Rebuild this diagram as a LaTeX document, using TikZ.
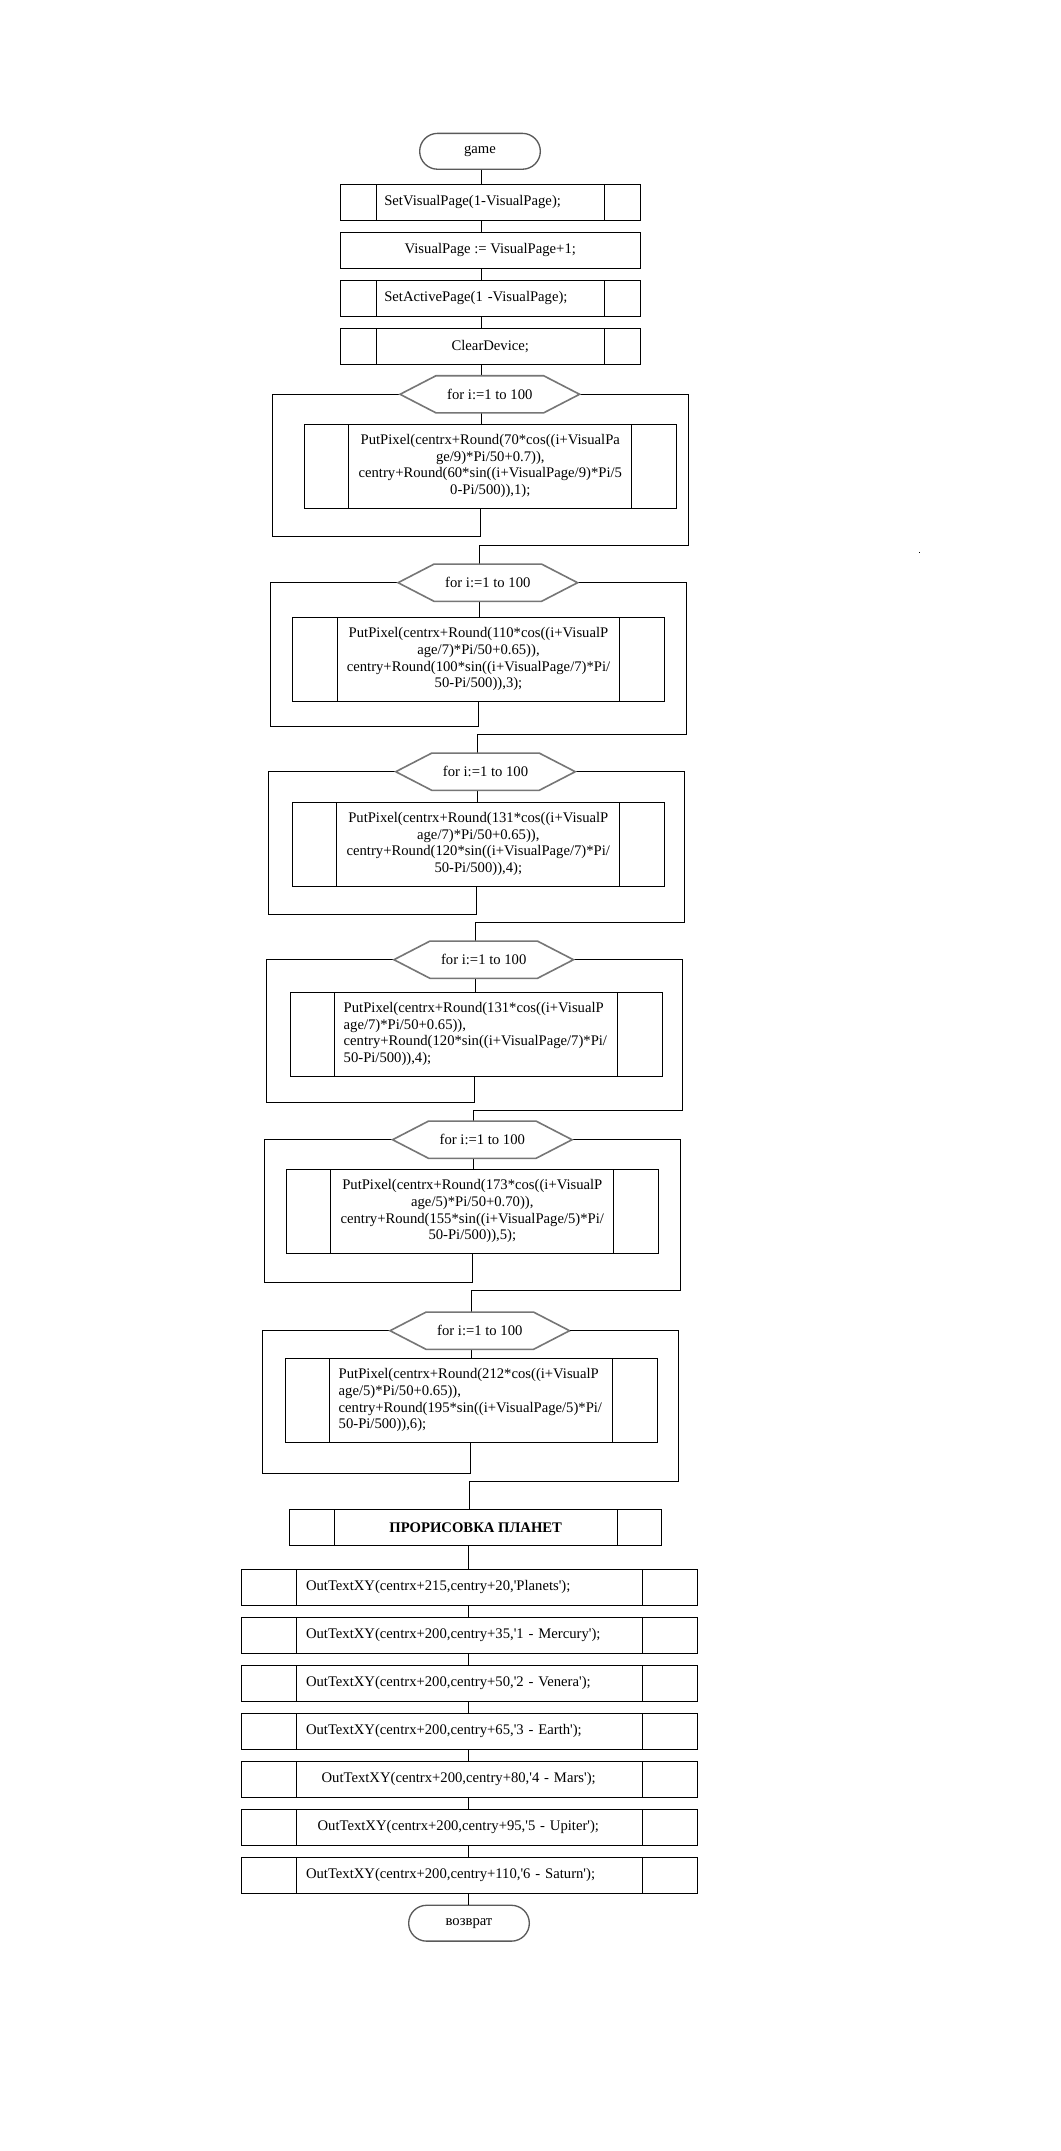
\documentclass[tikz,border=0pt]{standalone}
\usepackage{fontspec}
\setmainfont{Liberation Serif}
\usetikzlibrary{shapes.misc}
\definecolor{hexgray}{RGB}{118,118,118}
\definecolor{termgray}{RGB}{90,90,90}
\newcommand{\myq}{\textquotesingle}
\tikzset{
  line/.style={draw=black, line width=0.75pt},
  box/.style={draw=black, line width=0.75pt, rectangle, inner sep=0pt, minimum height=26.9pt},
  sides/.style={path picture={
    \draw[black, line width=0.75pt] ([xshift=#1]path picture bounding box.north west) -- ([xshift=#1]path picture bounding box.south west);
    \draw[black, line width=0.75pt] ([xshift=-#1]path picture bounding box.north east) -- ([xshift=-#1]path picture bounding box.south east);}},
  topbox/.style={box, minimum width=225pt},
  body/.style={box, minimum width=279pt, minimum height=63pt, sides=33.4pt},
  outbox/.style={box, minimum width=342.3pt, sides=41.7pt, text width=245.25pt, align=left},
  term/.style={rounded rectangle, draw=termgray, line width=1pt, inner sep=0pt, minimum width=90.5pt, minimum height=26.9pt},
  hexn/.style={inner sep=0pt, minimum width=134.25pt, minimum height=27.5pt},
  hexline/.style={draw=hexgray, line width=1.2pt, line join=miter},
}
\begin{document}
\begin{tikzpicture}[x=0.75pt, y=-0.75pt, font={\fontsize{11}{12.5}\selectfont}]
\useasboundingbox (0,0) rectangle (1060,2151);
\fill[white] (0,0) rectangle (1060,2151);

% spine x coordinates
\coordinate (xa) at (481.5,0);
\coordinate (xb) at (480.3,0);
\coordinate (xc) at (479.3,0);
\coordinate (xd) at (478.7,0);
\coordinate (xe) at (477.4,0);
\coordinate (xf) at (476.7,0);
\coordinate (xg) at (475.7,0);
\coordinate (xh) at (474.3,0);
\coordinate (xi) at (473.3,0);
\coordinate (xj) at (472.3,0);
\coordinate (xk) at (471.3,0);
\coordinate (xl) at (470.3,0);
\coordinate (xm) at (469.3,0);
\coordinate (xn) at (468.3,0);

% top part
\node[term] (game) at (480,151.3) {game};
\node[topbox, sides=27pt, text width=159pt, align=left] (b1) at (490.3,202.2) {SetVisualPage(1-VisualPage);};
\node[topbox] (b2) at (490.3,250.2) {VisualPage := VisualPage+1;};
\node[topbox, sides=27pt, text width=159pt, align=left] (b3) at (490.3,298.2) {SetActivePage(1 -VisualPage);};
\node[topbox, sides=27pt] (b4) at (490.3,346.3) {ClearDevice;};

\draw[line] (game.south -| xa) -- (b1.north -| xa);
\draw[line] (b1.south -| xa) -- (b2.north -| xa);
\draw[line] (b2.south -| xa) -- (b3.north -| xa);
\draw[line] (b3.south -| xa) -- (b4.north -| xa);

% loop 1
\node[hexn] (h1) at (489.8,394.3) {for i:=1 to 100};
\node[body, align=center] (p1) at (490.3,466) {PutPixel(centrx+Round(70*cos((i+VisualPa\\ge/9)*Pi/50+0.7)),\\centry+Round(60*sin((i+VisualPage/9)*Pi/5\\0-Pi/500)),1);};
\coordinate (l1) at (272.3,536.7);
\coordinate (r1) at (688.3,545);
\draw[line] (b4.south -| xa) -- (h1.north -| xa);
\draw[line] (h1.south -| xa) -- (p1.north -| xa);
\draw[line] (h1.west) -| (l1) -| (p1.south -| xb);

% loop 2
\node[hexn] (h2) at (487.8,582.7) {for i:=1 to 100};
\node[body, align=center] (p2) at (478.5,659.2) {PutPixel(centrx+Round(110*cos((i+VisualP\\age/7)*Pi/50+0.65)),\\centry+Round(100*sin((i+VisualPage/7)*Pi/\\50-Pi/500)),3);};
\coordinate (l2) at (270.3,726);
\coordinate (r2) at (686,734);
\draw[line] (h1.east) -| (r1) -| (h2.north -| xc);
\draw[line] (h2.south -| xc) -- (p2.north -| xc);
\draw[line] (h2.west) -| (l2) -| (p2.south -| xd);

% loop 3
\node[hexn] (h3) at (485.5,771.7) {for i:=1 to 100};
\node[body, align=center] (p3) at (478.3,844) {PutPixel(centrx+Round(131*cos((i+VisualP\\age/7)*Pi/50+0.65)),\\centry+Round(120*sin((i+VisualPage/7)*Pi/\\50-Pi/500)),4);};
\coordinate (l3) at (268.3,914);
\coordinate (r3) at (684.3,922.3);
\draw[line] (h2.east) -| (r2) -| (h3.north -| xe);
\draw[line] (h3.south -| xe) -- (p3.north -| xe);
\draw[line] (h3.west) -| (l3) -| (p3.south -| xf);

% loop 4
\node[hexn] (h4) at (483.7,959.7) {for i:=1 to 100};
\node[body, text width=198.9pt, align=left] (p4) at (476.3,1034) {PutPixel(centrx+Round(131*cos((i+VisualP\\age/7)*Pi/50+0.65)),\\centry+Round(120*sin((i+VisualPage/7)*Pi/\\50-Pi/500)),4);};
\coordinate (l4) at (266.3,1102);
\coordinate (r4) at (682.7,1110);
\draw[line] (h3.east) -| (r3) -| (h4.north -| xg);
\draw[line] (h4.south -| xg) -- (p4.north -| xg);
\draw[line] (h4.west) -| (l4) -| (p4.south -| xh);

% loop 5
\node[hexn] (h5) at (482.3,1139.7) {for i:=1 to 100};
\node[body, align=center] (p5) at (472.3,1211.3) {PutPixel(centrx+Round(173*cos((i+VisualP\\age/5)*Pi/50+0.70)),\\centry+Round(155*sin((i+VisualPage/5)*Pi/\\50-Pi/500)),5);};
\coordinate (l5) at (264.3,1282.3);
\coordinate (r5) at (680,1290.3);
\draw[line] (h4.east) -| (r4) -| (h5.north -| xi);
\draw[line] (h5.south -| xi) -- (p5.north -| xi);
\draw[line] (h5.west) -| (l5) -| (p5.south -| xj);

% loop 6
\node[hexn] (h6) at (479.8,1330.7) {for i:=1 to 100};
\node[body, text width=198.9pt, align=left] (p6) at (471.3,1400.2) {PutPixel(centrx+Round(212*cos((i+VisualP\\age/5)*Pi/50+0.65)),\\centry+Round(195*sin((i+VisualPage/5)*Pi/\\50-Pi/500)),6);};
\coordinate (l6) at (262.3,1473);
\coordinate (r6) at (678.7,1481);
\draw[line] (h5.east) -| (r5) -| (h6.north -| xk);
\draw[line] (h6.south -| xk) -- (p6.north -| xk);
\draw[line] (h6.west) -| (l6) -| (p6.south -| xl);

% hexagon outlines
\foreach \h in {h1,h2,h3,h4,h5,h6}
  \draw[hexline] (\h.west) -- ([xshift=27pt]\h.north west) -- ([xshift=-27pt]\h.north east) -- (\h.east) -- ([xshift=-27pt]\h.south east) -- ([xshift=27pt]\h.south west) -- cycle;

% bottom part
\node[box, minimum width=279pt, sides=33.45pt, font={\fontsize{11}{12.5}\selectfont\bfseries}] (plan) at (475.7,1527.2) {ПРОРИСОВКА ПЛАНЕТ};
\draw[line] (h6.east) -| (r6) -| (plan.north -| xm);

\node[outbox] (o1) at (469.5,1587.3) {OutTextXY(centrx+215,centry+20,\myq Planets\myq);};
\node[outbox] (o2) at (469.5,1635.2) {OutTextXY(centrx+200,centry+35,\myq 1 - Mercury\myq);};
\node[outbox] (o3) at (469.5,1683.3) {OutTextXY(centrx+200,centry+50,\myq 2 - Venera\myq);};
\node[outbox] (o4) at (469.5,1731.3) {OutTextXY(centrx+200,centry+65,\myq 3 - Earth\myq);};
\node[outbox] (o5) at (469.5,1779.2) {\hspace*{11.7pt}OutTextXY(centrx+200,centry+80,\myq 4 - Mars\myq);};
\node[outbox] (o6) at (469.5,1827.2) {\hspace*{8.7pt}OutTextXY(centrx+200,centry+95,\myq 5 - Upiter\myq);};
\node[outbox] (o7) at (469.5,1875.2) {OutTextXY(centrx+200,centry+110,\myq 6 - Saturn\myq);};
\node[term] (ret) at (469,1923.2) {возврат};

\draw[line] (plan.south -| xn) -- (o1.north -| xn);
\draw[line] (o1.south -| xn) -- (o2.north -| xn);
\draw[line] (o2.south -| xn) -- (o3.north -| xn);
\draw[line] (o3.south -| xn) -- (o4.north -| xn);
\draw[line] (o4.south -| xn) -- (o5.north -| xn);
\draw[line] (o5.south -| xn) -- (o6.north -| xn);
\draw[line] (o6.south -| xn) -- (o7.north -| xn);
\draw[line] (o7.south -| xn) -- (ret.north -| xn);

% stray dot
\fill[black] (918.5,551.5) rectangle (919.8,552.8);
\end{tikzpicture}
\end{document}
